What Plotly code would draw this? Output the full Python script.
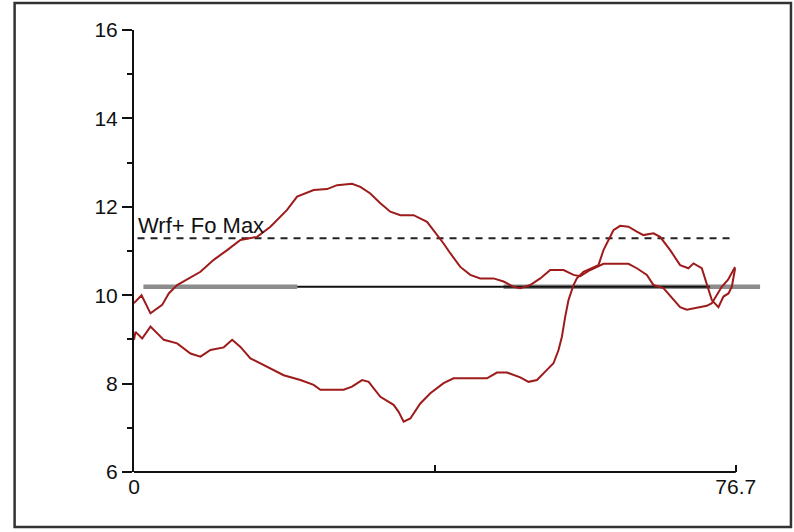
import plotly.graph_objects as go

# ---- data ----
curve_a_x = [0.0, 0.96, 2.10, 3.59, 4.43, 5.50, 8.47, 10.16, 11.87, 13.57, 15.69, 17.39,
             19.51, 20.79, 22.90, 24.61, 25.88, 27.79, 28.85, 30.12, 31.40, 32.67, 33.95,
             35.64, 37.35, 38.19, 39.46, 40.31, 41.59, 42.86, 44.13, 45.83, 47.10, 48.38,
             49.23, 50.50, 51.78, 53.05, 54.75, 56.02, 56.87, 58.15, 59.84, 63.02, 64.09,
             65.37, 66.21, 67.48, 68.76, 69.61, 70.46, 72.16, 73.01, 73.65, 74.92, 75.72, 76.61]
curve_a_y = [9.82, 10.0, 9.59, 9.78, 10.04, 10.23, 10.53, 10.8, 11.02, 11.25, 11.32, 11.55,
             11.93, 12.23, 12.38, 12.4, 12.49, 12.52, 12.45, 12.3, 12.08, 11.89, 11.81,
             11.81, 11.66, 11.47, 11.17, 10.95, 10.64, 10.46, 10.38, 10.38, 10.31, 10.19,
             10.16, 10.23, 10.38, 10.57, 10.57, 10.46, 10.43, 10.57, 10.71, 10.71, 10.61,
             10.46, 10.23, 10.16, 9.89, 9.73, 9.67, 9.73, 9.76, 9.82, 10.19, 10.35, 10.64]

curve_b_x = [0.0, 0.19, 1.04, 2.10, 3.80, 5.50, 7.20, 8.47, 9.74, 11.44, 12.51, 13.57,
             14.84, 16.97, 19.08, 21.21, 22.90, 23.76, 26.72, 27.79, 29.07, 29.91, 31.40,
             33.09, 33.73, 34.37, 35.22, 36.49, 37.77, 39.46, 40.73, 44.99, 46.26, 47.54,
             49.23, 50.29, 51.36, 52.63, 53.47, 54.11, 54.54, 54.96, 55.38, 56.02, 56.45,
             57.29, 58.57, 59.20, 59.84, 60.69, 61.11, 61.97, 63.02, 64.09, 64.93, 66.21,
             67.06, 68.34, 69.61, 70.67, 71.31, 72.37, 73.01, 73.65, 74.49, 75.13, 75.77,
             76.20, 76.62]
curve_b_y = [8.99, 9.17, 9.02, 9.29, 8.99, 8.91, 8.68, 8.61, 8.76, 8.82, 8.99, 8.83,
             8.57, 8.38, 8.19, 8.08, 7.97, 7.86, 7.86, 7.93, 8.08, 8.04, 7.7,
             7.52, 7.36, 7.14, 7.21, 7.55, 7.78, 8.01, 8.12, 8.12, 8.25, 8.25,
             8.14, 8.04, 8.08, 8.31, 8.46, 8.76, 9.06, 9.51, 9.89, 10.23, 10.38,
             10.53, 10.64, 10.68, 11.02, 11.32, 11.47, 11.57, 11.55, 11.44, 11.36, 11.4,
             11.32, 11.02, 10.68, 10.61, 10.72, 10.61, 10.27, 9.89, 9.73, 9.97, 10.04,
             10.19, 10.61]

max_line_value = 11.29
max_line_x = [0.45, 76.6]
max_label = "Wrf+ Fo Max"

ref_value = 10.19
ref_gray_segments = [[1.2, 20.8], [47.1, 79.8]]
ref_black_x = [20.8, 73.4]

x_max = 76.7
x_range_max = 80.3
x_tick_vals = [0, 38.35, 76.7]
x_tick_text = ["0", "", "76.7"]
y_major = [6, 8, 10, 12, 14, 16]

RED = "#9E1B1B"
FONT = "Liberation Sans, Arial, sans-serif"

fig = go.Figure()

for seg in ref_gray_segments:
    fig.add_trace(go.Scatter(x=seg, y=[ref_value, ref_value], mode="lines",
                             line=dict(color="rgba(120,120,120,0.85)", width=4.5),
                             hoverinfo="skip", showlegend=False))
fig.add_trace(go.Scatter(x=ref_black_x, y=[ref_value, ref_value], mode="lines",
                         line=dict(color="#111111", width=2),
                         hoverinfo="skip", showlegend=False))
fig.add_trace(go.Scatter(x=max_line_x, y=[max_line_value, max_line_value], mode="lines",
                         line=dict(color="#222222", width=2, dash="7px,6px"),
                         hoverinfo="skip", showlegend=False))
fig.add_trace(go.Scatter(x=curve_a_x, y=curve_a_y, mode="lines",
                         line=dict(color=RED, width=2), showlegend=False))
fig.add_trace(go.Scatter(x=curve_b_x, y=curve_b_y, mode="lines",
                         line=dict(color=RED, width=2), showlegend=False))

fig.add_annotation(x=0.2, y=max_line_value, xref="x", yref="y",
                   text=max_label, showarrow=False, xanchor="left", yanchor="bottom",
                   yshift=-2, font=dict(family=FONT, size=22, color="#111111"))

# x axis line (ends at x_max) and outer frame
fig.add_shape(type="line", xref="paper", yref="paper", x0=0, x1=x_max / x_range_max,
              y0=0, y1=0, line=dict(color="#111111", width=2))
fig.add_shape(type="rect", xref="paper", yref="paper",
              x0=-0.1895, x1=1.0428, y0=-0.1244, y1=1.0611,
              line=dict(color="#333333", width=2.5))

fig.update_layout(
    width=794, height=532,
    margin=dict(l=133.5, r=30.1, t=30, b=60),
    paper_bgcolor="white", plot_bgcolor="white",
    font=dict(family=FONT, size=21, color="#111111"),
    xaxis=dict(range=[0, x_range_max], showgrid=False, zeroline=False, showline=False,
               tickvals=x_tick_vals, ticktext=x_tick_text, ticks="inside", ticklen=7,
               tickwidth=1.5, tickcolor="#111111",
               tickfont=dict(family=FONT, size=21, color="#111111")),
    yaxis=dict(range=[6, 16], showgrid=False, zeroline=False, showline=True,
               linecolor="#111111", linewidth=2, tickvals=y_major, ticks="outside",
               ticklen=10, tickwidth=1.5, tickcolor="#111111",
               minor=dict(dtick=1, ticks="outside", ticklen=5, tickwidth=1.5,
                          tickcolor="#111111", showgrid=False),
               tickfont=dict(family=FONT, size=21, color="#111111")),
)

fig.write_html("out.html")
